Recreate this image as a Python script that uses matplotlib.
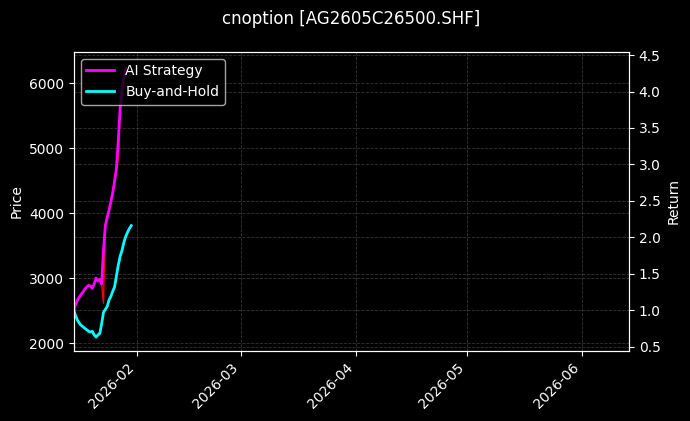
import numpy as np
import pandas as pd
import matplotlib
matplotlib.use("Agg")
import matplotlib.pyplot as plt
import matplotlib.dates as mdates

# 12-hour bars, 15 Jan -> 30 Jan 2026
dates = pd.date_range("2026-01-15 00:00", periods=32, freq="12h")

price = [2508, 2600, 2662, 2708, 2754, 2785, 2831, 2862, 2892, 2877, 2846,
         2908, 3000, 2954, 2985, 2908, 2615, 3815, 3954, 4046, 4169, 4338,
         4508, 4662, 4862, 5615, 5923, 6100, 6250, np.nan, np.nan, np.nan]

ai_return = [1.00, 1.08, 1.14, 1.18, 1.22, 1.25, 1.29, 1.32, 1.34, 1.33, 1.30,
             1.36, 1.44, 1.40, 1.42, 1.36, 1.82, 2.16, 2.27, 2.37, 2.49, 2.61,
             2.77, 2.95, 3.33, 3.77, 4.02, 4.19, 4.32, np.nan, np.nan, np.nan]

bh_return = [1.00, 0.92, 0.86, 0.82, 0.79, 0.77, 0.75, 0.73, 0.71, 0.70, 0.71,
             0.66, 0.63, 0.66, 0.68, 0.81, 0.97, 1.01, 1.05, 1.14, 1.19, 1.26,
             1.32, 1.47, 1.62, 1.74, 1.82, 1.93, 2.01, 2.07, 2.12, 2.16]

title = "cnoption [AG2605C26500.SHF]"

plt.style.use("dark_background")
fig, ax1 = plt.subplots(figsize=(6.9, 4.21), dpi=100)
fig.subplots_adjust(left=0.107, right=0.9116, top=0.877, bottom=0.166)

ax1.plot(dates, price, color="red", linewidth=1)
ax1.set_ylabel("Price")
ax1.set_ylim(1877, 6486)
ax1.grid(True, linestyle="--", color="gray", alpha=0.4, linewidth=0.6)

ax2 = ax1.twinx()
ax2.plot(dates, ai_return, color="magenta", linewidth=2, label="AI Strategy")
ax2.plot(dates, bh_return, color="cyan", linewidth=2, label="Buy-and-Hold")
ax2.set_ylabel("Return")
ax2.set_ylim(0.438, 4.545)
ax2.grid(True, axis="y", linestyle="--", color="gray", alpha=0.4, linewidth=0.6)
ax2.legend(loc="upper left")

ax1.set_xlim(pd.Timestamp("2026-01-15 00:00"), pd.Timestamp("2026-06-13 19:00"))
ax1.xaxis.set_major_locator(mdates.MonthLocator())
ax1.xaxis.set_major_formatter(mdates.DateFormatter("%Y-%m"))
plt.setp(ax1.get_xticklabels(), rotation=45, ha="right")

ax1.set_title(title, pad=20)

fig.savefig("out.png", dpi=100)
